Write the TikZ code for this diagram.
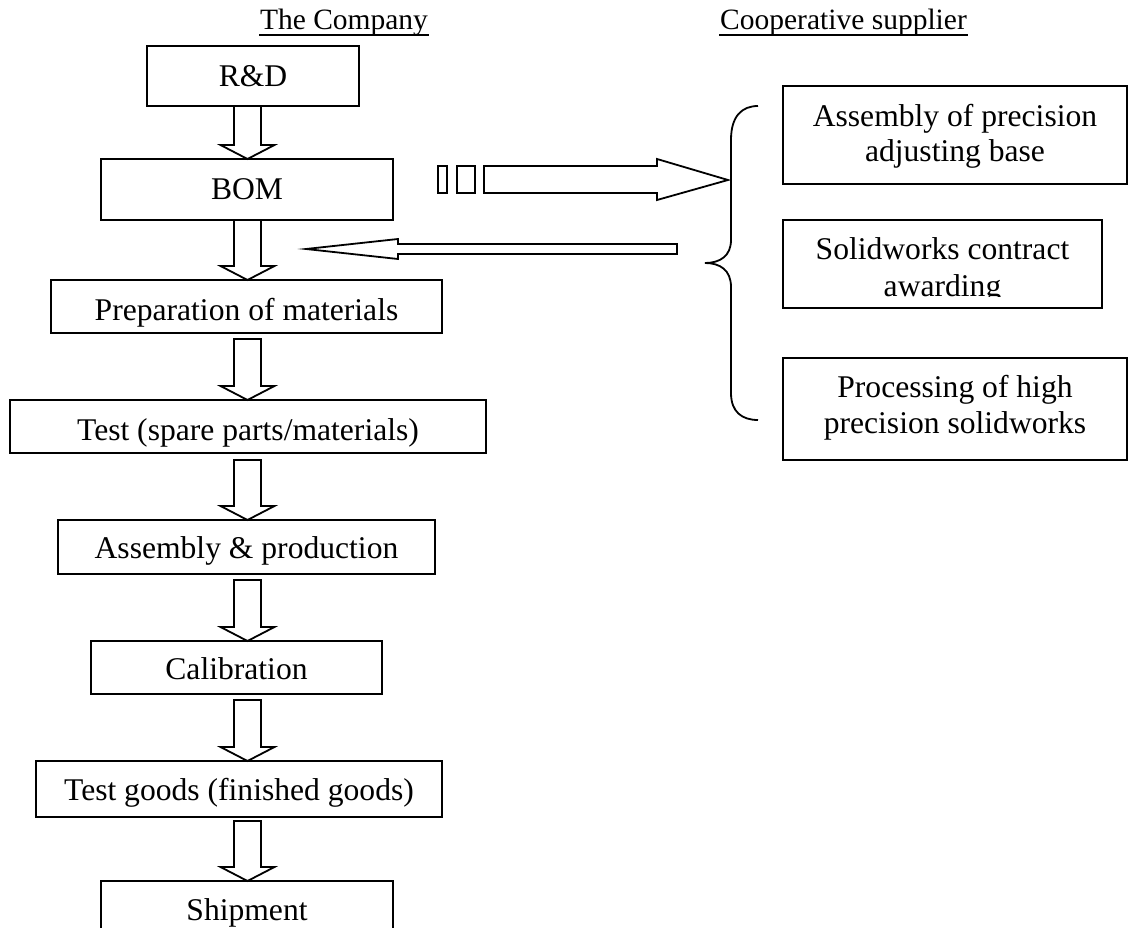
\documentclass[tikz,border=0pt]{standalone}
\usepackage{fontspec}
\setmainfont{Liberation Serif}
\usetikzlibrary{calc}

% Hollow block arrow pointing down from the bottom of #1 to the top of #2;
% #3 is the gap (pt) left between #1 and the arrow's tail.
\newcommand\flowdown[3]{%
  \draw[flow] let \p1=(axis |- #1.south), \p2=(axis |- #2.north) in
    (\x1-13.5pt,\y1-#3pt) -- (\x1+13.5pt,\y1-#3pt) -- (\x1+13.5pt,\y2+14pt)
    -- (\x1+27pt,\y2+14pt) -- (\x2,\y2) -- (\x1-27pt,\y2+14pt)
    -- (\x1-13.5pt,\y2+14pt) -- cycle;}

\begin{document}
\begin{tikzpicture}[x=1pt,y=-1pt,
  line width=1.8pt,
  box/.style={draw, rectangle, inner sep=0pt, outer sep=0pt},
  lbl/.style={inner sep=0pt, anchor=base, font=\fontsize{31.6pt}{36pt}\selectfont},
  colhead/.style={inner sep=0pt, anchor=base, font=\fontsize{29.5pt}{34pt}\selectfont},
  flow/.style={draw, line width=1.8pt, line join=miter, fill=white}]
\useasboundingbox (0,0) rectangle (1128,928);
\clip (0,0) rectangle (1128,928);

% column headings
\node[colhead] (company) at (344,30) {The Company};
\draw[line width=1.5pt] ([yshift=-5pt]company.base west) -- ([yshift=-5pt]company.base east);
\node[colhead] (supplier) at (843.5,30) {Cooperative supplier};
\draw[line width=1.5pt] ([yshift=-5pt]supplier.base west) -- ([yshift=-5pt]supplier.base east);

% in-house process chain
\coordinate (axis) at (247.5,0);
\node[box, minimum width=212pt, minimum height=60pt] (rd)   at (253,76)    {};
\node[box, minimum width=292pt, minimum height=61pt] (bom)  at (247,189.5) {};
\node[box, minimum width=391pt, minimum height=53pt] (prep) at (246.5,306.5) {};
\node[box, minimum width=476pt, minimum height=53pt] (test) at (248,426.5) {};
\node[box, minimum width=377pt, minimum height=54pt] (asm)  at (246.5,547) {};
\node[box, minimum width=291pt, minimum height=53pt] (cal)  at (236.5,667.5) {};
\node[box, minimum width=406pt, minimum height=56pt] (tg)   at (239,789)   {};
\node[box, minimum width=292pt, minimum height=60pt] (ship) at (247,911)   {};

\node[lbl] (rdt)   at (253,87)    {R\&D};
\node[lbl] (bomt)  at (247,200)   {BOM};
\node[lbl] (prept) at (246.5,320) {Preparation of materials};
\node[lbl] (testt) at (248,440)   {Test (spare parts/materials)};
\node[lbl] (asmt)  at (246.5,558) {Assembly \& production};
\node[lbl] (calt)  at (236.5,679) {Calibration};
\node[lbl] (tgt)   at (239,800)   {Test goods (finished goods)};
\node[lbl] (shipt) at (247,920)   {Shipment};

\flowdown{rd}{bom}{0}
\flowdown{bom}{prep}{0}
\flowdown{prep}{test}{6}
\flowdown{test}{asm}{7}
\flowdown{asm}{cal}{6}
\flowdown{cal}{tg}{6}
\flowdown{tg}{ship}{4}

% outsourced work
\node[box, minimum width=344pt, minimum height=98pt]  (s1) at (955,135)   {};
\node[box, minimum width=319pt, minimum height=88pt]  (s2) at (942.5,264) {};
\node[box, minimum width=344pt, minimum height=102pt] (s3) at (955,409)   {};

\node[lbl] (s1a) at (955,127) {Assembly of precision};
\node[lbl] (s1b) at (955,162) {adjusting base};
\begin{scope}
  \clip (783,220) rectangle (1102,296.5);
  \node[lbl] (s2a) at (942.5,260) {Solidworks contract};
  \node[lbl] (s2b) at (942.5,297) {awarding};
\end{scope}
\node[lbl] (s3a) at (955,397) {Processing of high};
\node[lbl] (s3b) at (955,433) {precision solidworks};

% brace grouping the supplier tasks
\draw[line width=1.8pt] (758,106) .. controls (742,106) and (731,116) .. (731,140)
  -- (731,240) .. controls (731,256) and (720,263) .. (705,263)
  .. controls (720,263) and (731,270) .. (731,287)
  -- (731,393) .. controls (731,412) and (742,420) .. (758,420);

% BOM handed out to the supplier (striped arrow)
\coordinate (bracein) at (728,180);
\draw[flow] (438,166) rectangle (447,193);
\draw[flow] (457,166) rectangle (475,193);
\draw[flow] (484,166) -- (657,166) -- (657,159) -- (bracein) -- (657,200)
  -- (657,193) -- (484,193) -- cycle;

% supplied parts coming back
\coordinate (retstart) at (677,249);
\coordinate (rettip) at (306,249);
\draw[flow] ($(retstart)+(0,-5)$) -- (398,244) -- (398,239) -- (rettip)
  -- (398,259) -- (398,254) -- ($(retstart)+(0,5)$) -- cycle;
\end{tikzpicture}
\end{document}
